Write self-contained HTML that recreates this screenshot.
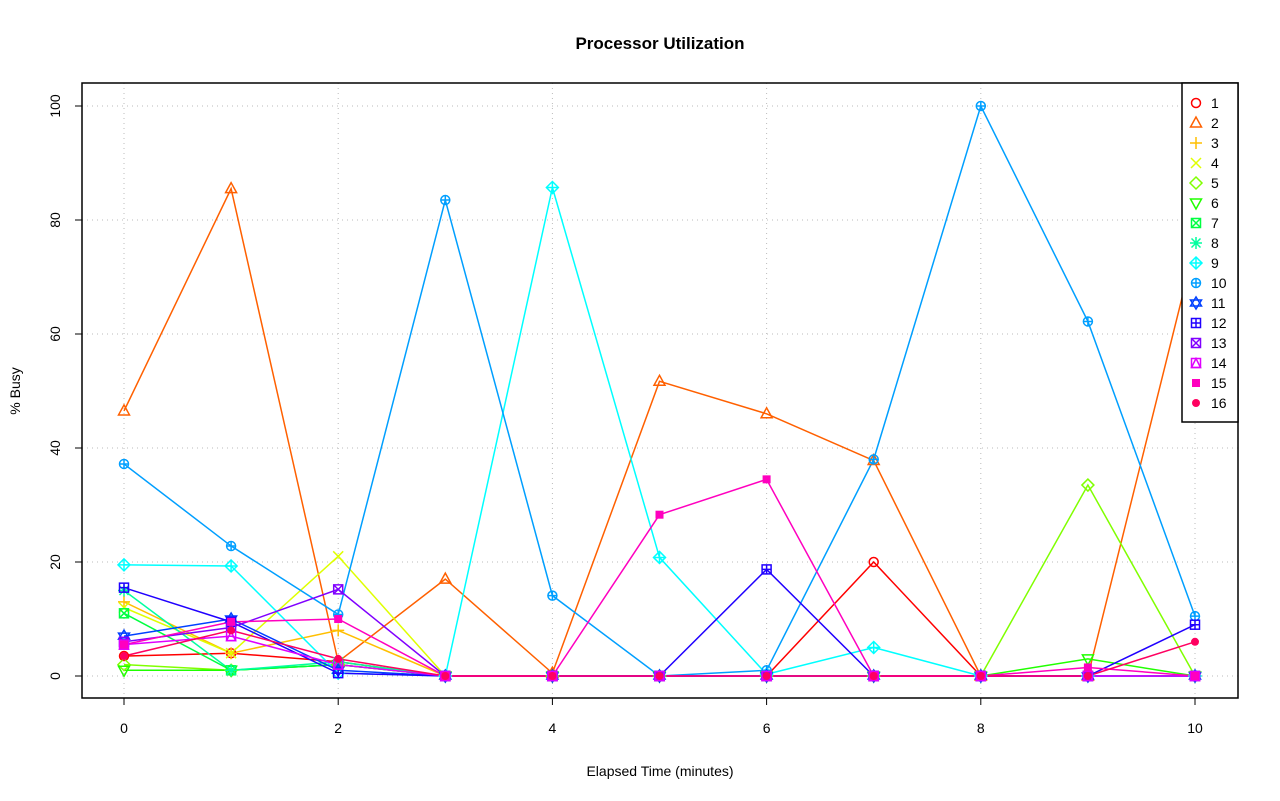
<!DOCTYPE html>
<html><head><meta charset="utf-8"><style>body{margin:0;background:#fff}svg{display:block}text{font-family:"Liberation Sans",Arial,sans-serif}</style></head>
<body>
<svg id="s" width="1280" height="801" xmlns="http://www.w3.org/2000/svg"></svg>
<script>
const s=document.getElementById('s');let h='';
const X=v=>124+v*107.1, Y=v=>676-v*5.7;
h+='<text x="660" y="49" text-anchor="middle" font-size="17" font-weight="bold">Processor Utilization</text>';
h+='<text x="660" y="776" text-anchor="middle" font-size="14">Elapsed Time (minutes)</text>';
h+='<text transform="translate(20,391) rotate(-90)" text-anchor="middle" font-size="14">% Busy</text>';
for(let i=0;i<=10;i+=2){h+=`<line x1="${X(i)}" y1="83" x2="${X(i)}" y2="698" stroke="#bbb" stroke-dasharray="1,4"/>`;
h+=`<line x1="${X(i)}" y1="698" x2="${X(i)}" y2="705" stroke="#000"/><text x="${X(i)}" y="733" text-anchor="middle" font-size="14">${i}</text>`;}
for(let v=0;v<=100;v+=20){h+=`<line x1="82" y1="${Y(v)}" x2="1238" y2="${Y(v)}" stroke="#bbb" stroke-dasharray="1,4"/>`;
h+=`<line x1="75" y1="${Y(v)}" x2="82" y2="${Y(v)}" stroke="#000"/><text transform="translate(60,${Y(v)}) rotate(-90)" text-anchor="middle" font-size="14">${v}</text>`;}
const C=['#FF0000','#FF6000','#FFBF00','#DFFF00','#80FF00','#20FF00','#00FF40','#00FF9F','#00FFFF','#009FFF','#0040FF','#2000FF','#8000FF','#DF00FF','#FF00BF','#FF0060'];
const D=[
[3.5,4,2.5,0,0,0,0,20,0,0,0],
[46.5,85.5,2.5,17,0.5,51.7,46,37.8,0,0,75.5],
[13,4,8,0,0,0,0,0,0,0,0],
[12,4,21,0,0,0,0,0,0,0,0],
[2,1,2,0,0,0,0,0,0,33.5,0],
[1,1,2,0,0,0,0,0,0,3,0],
[11,1,2,0,0,0,0,0,0,0,0],
[15,1,2.5,0,0,0,0,0,0,0,0],
[19.5,19.3,0.5,0,85.7,20.8,0.3,5,0,0,0],
[37.2,22.8,10.8,83.5,14.1,0,1,38,100,62.2,10.5],
[7,10,1,0,0,0,0,0,0,0,0],
[15.5,9.5,0.5,0,0,0,18.7,0,0,0,9],
[6,8.5,15.2,0,0,0,0,0,0,0,0],
[5.5,7,2,0,0,0,0,0,0,0,0],
[5.5,9.5,10,0,0,28.3,34.5,0,0,1.5,0],
[3.5,8,3,0,0,0,0,0,0,0,6]];
function mk(k,x,y,c){const r=4.5;const a=`stroke="${c}" stroke-width="1.5" fill="none"`;
switch(k){case 0:return `<circle cx="${x}" cy="${y}" r="${r}" ${a}/>`;
case 1:return `<polygon points="${x},${y-6} ${x-5.5},${y+4} ${x+5.5},${y+4}" ${a}/>`;
case 2:return `<path d="M${x-6} ${y}h12M${x} ${y-6}v12" ${a}/>`;
case 3:return `<path d="M${x-5} ${y-5}l10 10M${x+5} ${y-5}l-10 10" ${a}/>`;
case 4:return `<polygon points="${x},${y-6} ${x+6},${y} ${x},${y+6} ${x-6},${y}" ${a}/>`;
case 5:return `<polygon points="${x},${y+6} ${x-5.5},${y-4} ${x+5.5},${y-4}" ${a}/>`;
case 6:case 12:return `<rect x="${x-4.5}" y="${y-4.5}" width="9" height="9" ${a}/><path d="M${x-4.5} ${y-4.5}l9 9M${x+4.5} ${y-4.5}l-9 9" ${a}/>`;
case 7:return `<path d="M${x-6} ${y}h12M${x} ${y-6}v12M${x-4.5} ${y-4.5}l9 9M${x+4.5} ${y-4.5}l-9 9" ${a}/>`;
case 8:return `<polygon points="${x},${y-6} ${x+6},${y} ${x},${y+6} ${x-6},${y}" ${a}/><path d="M${x-6} ${y}h12M${x} ${y-6}v12" ${a}/>`;
case 9:return `<circle cx="${x}" cy="${y}" r="${r}" ${a}/><path d="M${x-4.5} ${y}h9M${x} ${y-4.5}v9" ${a}/>`;
case 10:return `<polygon points="${x},${y-6} ${x-5.5},${y+3} ${x+5.5},${y+3}" ${a}/><polygon points="${x},${y+6} ${x-5.5},${y-3} ${x+5.5},${y-3}" ${a}/>`;
case 11:return `<rect x="${x-4.5}" y="${y-4.5}" width="9" height="9" ${a}/><path d="M${x-4.5} ${y}h9M${x} ${y-4.5}v9" ${a}/>`;
case 13:return `<rect x="${x-4.5}" y="${y-4.5}" width="9" height="9" ${a}/><polygon points="${x},${y-4.5} ${x-4.5},${y+4.5} ${x+4.5},${y+4.5}" ${a}/>`;
case 14:return `<rect x="${x-4}" y="${y-4}" width="8" height="8" fill="${c}"/>`;
case 15:return `<circle cx="${x}" cy="${y}" r="4" fill="${c}"/>`;}}
D.forEach((d,k)=>{h+=`<polyline fill="none" stroke="${C[k]}" stroke-width="1.5" points="${d.map((v,i)=>X(i)+','+Y(v)).join(' ')}"/>`;});
D.forEach((d,k)=>{d.forEach((v,i)=>{h+=mk(k,X(i),Y(v),C[k]);});});
h+='<rect x="82" y="83" width="1156" height="615" fill="none" stroke="#000" stroke-width="1.5"/>';
h+='<rect x="1182" y="83" width="56" height="339" fill="#fff" stroke="#000" stroke-width="1.5"/>';
for(let k=0;k<16;k++){const y=103+k*20;h+=mk(k,1196,y,C[k]);h+=`<text x="1211" y="${y+5}" font-size="14">${k+1}</text>`;}
s.innerHTML=h;
</script>
</body></html>
